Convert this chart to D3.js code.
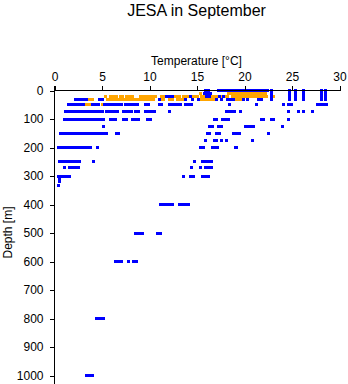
<!DOCTYPE html>
<html><head><meta charset="utf-8">
<script src="https://cdn.jsdelivr.net/npm/d3@7"></script>
<style>
html,body{margin:0;padding:0;background:#fff;}
svg{display:block;font-family:"Liberation Sans",Arial,Helvetica,sans-serif;}
</style></head>
<body><svg id="c" width="348" height="384"></svg>
<script>
const titleText = "JESA in September";
const xLabel = "Temperature [°C]";
const yLabel = "Depth [m]";
const xTicks = [0,5,10,15,20,25,30];
const yTicks = [0,100,200,300,400,500,600,700,800,900,1000];

// Blue series: depth levels and temperatures observed at each level
const blueDepths = [0,10,20,30,50,75,100,125,150,175,200,250,270,300,310,320,333,400,500,600,800,1000];
const blueTemps = [
  [15.9,16.2,17.3,17.6,17.9,18.2,18.5,18.8,19.1,19.4,19.7,20.0,20.3,20.6,20.9,21.2,21.5,21.8,22.1,22.4,22.8,24.7,25.4,26.2,28.1,28.5],
  [15.8,16.1,16.4,22.8,24.7,25.4,26.2,28.1,28.5],
  [11.8,12.1,12.4,14.3,16.0,16.3,17.4,17.8,22.8,24.7,25.4,26.2,28.1,28.5],
  [2.2,2.5,2.8,3.1,3.4,4.7,5.0,11.0,13.8,14.5,15.2,17.1,17.6,18.2,18.5,18.8,19.9,20.3,21.5,21.8,22.8,24.7,25.4,26.2,28.1,28.5],
  [1.5,1.8,2.1,2.4,2.7,3.0,4.0,4.3,4.6,5.3,5.6,5.9,6.2,6.5,6.8,7.1,7.5,7.8,8.1,8.4,8.7,9.6,9.9,11.0,11.3,12.1,12.4,12.7,13.0,13.3,13.8,14.1,14.4,18.4,21.3,24.1,24.6,24.9,27.7,28.0,28.3,28.6],
  [1.2,1.5,1.8,2.1,2.4,2.7,3.0,3.3,3.6,3.9,4.2,4.5,4.8,5.1,5.5,5.8,6.1,6.4,6.6,7.3,7.6,7.9,8.1,8.5,8.8,9.6,9.9,10.2,10.5,12.1,18.1,18.3,18.6,18.9,19.6,24.6,25.7,26.2,27.2],
  [1.0,1.3,1.6,1.9,2.2,2.5,2.8,3.1,3.4,3.7,4.0,4.3,4.6,4.9,5.2,5.9,6.1,6.4,7.3,7.6,8.2,8.5,8.8,9.8,10.1,16.8,17.1,17.7,18.0,18.3,21.8,22.0,22.8,23.1,24.6],
  [5.2,16.3,16.6,17.3,17.6,20.1,20.4,20.7,20.9,24.0],
  [0.6,0.9,1.2,1.5,1.8,2.1,2.4,2.7,3.0,3.3,3.6,3.9,4.2,4.5,4.8,5.0,5.3,5.5,6.5,6.7,16.1,16.3,17.1,17.4,18.8,19.2,19.5,22.5],
  [15.9,16.8,17.1,17.6,18.1,20.8],
  [0.45,0.75,1.05,1.35,1.65,1.95,2.25,2.55,2.85,3.15,3.45,3.75,4.5,15.4,15.7,16.6,16.9,17.2,19.0,19.2],
  [0.55,0.85,1.15,1.45,1.75,2.05,2.35,2.65,4.1,14.7,15.6,15.9,16.2,16.5],
  [1.0,1.6,1.9,2.2,2.5,14.4,15.4,15.9,16.2,16.5],
  [0.4,0.7,1.0,1.3,1.6,13.6,14.3,14.6,15.6,15.9,16.2],
  [0.5],
  [0.5],
  [0.4],
  [11.2,11.5,11.8,12.1,12.4,13.2,13.5,13.8,14.1],
  [8.5,8.8,9.1,9.3,10.8,11.2],
  [6.4,6.7,7.0,7.8,8.3,8.6],
  [4.4,4.7,5.0,5.2],
  [3.4,3.7,4.0]
];

// Orange series
const orangeDepths = [10,20,30,50];
const orangeTemps = [
  [15.4,18.3,18.6,18.9,19.2,19.5,19.8,20.1,20.4,20.7,21.0,21.3,21.6,21.9,22.2],
  [5.4,5.9,6.2,6.5,6.9,7.2,7.6,7.9,8.2,9.1,9.4,9.7,10.0,10.3,10.6,11.3,11.6,12.6,12.9,13.2,13.6,13.9,14.2,14.5,14.8,15.1,15.5,15.8,16.1,16.4,16.7,17.0,17.3,17.6,17.9,18.2,18.7,19.0,19.3,19.6,19.9,20.2,20.5,20.8,21.1,21.4,21.7,22.0,22.3,23.0],
  [3.7,4.0,5.6,5.9,6.2,6.5,6.8,7.1,7.4,7.7,8.0,8.3,8.6,8.9,9.2,9.5,9.8,10.1,10.4,11.2,11.5,12.1,12.4,12.9,13.2,13.5,15.5,15.8,16.1,16.4,16.7,19.2,19.5,19.8],
  [3.3,3.6,3.9,5.0]
];

const svg = d3.select("#c");
const x = d3.scaleLinear().domain([0,30]).range([54,339]);
const y = d3.scaleLinear().domain([0,1000]).range([90,375]);

function flatten(depths, temps){
  const out = [];
  depths.forEach((d,i)=>temps[i].forEach(t=>out.push({t:t,d:d})));
  return out;
}
const orangePts = flatten(orangeDepths, orangeTemps);
const bluePts = flatten(blueDepths, blueTemps);

function drawPts(pts, color){
  svg.append("g").selectAll("rect").data(pts).enter().append("rect")
    .attr("x", p=>Math.round(x(p.t))-1)
    .attr("y", p=>Math.round(y(p.d))-1)
    .attr("width",3).attr("height",3)
    .attr("fill",color).attr("shape-rendering","crispEdges");
}
drawPts(orangePts, "#ffa500");
drawPts(bluePts, "#0000ff");

// Axes
const gx = svg.append("g").attr("transform","translate(0.5,90.5)")
  .call(d3.axisTop(x).tickValues(xTicks).tickSize(5).tickPadding(5).tickFormat(d3.format("d")));
const gy = svg.append("g").attr("transform","translate(54.5,0.5)")
  .call(d3.axisLeft(y).tickValues(yTicks).tickSize(5).tickPadding(6).tickFormat(d3.format("d")));
[gx,gy].forEach(g=>{
  g.selectAll("text").attr("font-size",12).attr("font-family","Liberation Sans, Arial, sans-serif").attr("fill","#000");
  g.selectAll("line").attr("stroke","#000").attr("shape-rendering","crispEdges");
  g.select(".domain").remove();
});
gx.append("line").attr("x1",x(0)).attr("x2",x(30)).attr("y1",0).attr("y2",0)
  .attr("stroke","#000").attr("shape-rendering","crispEdges");
gy.append("line").attr("x1",0).attr("x2",0).attr("y1",85).attr("y2",384)
  .attr("stroke","#000").attr("shape-rendering","crispEdges");

svg.append("text").attr("x",196.5).attr("y",16).attr("text-anchor","middle")
  .attr("font-size",16).text(titleText);
svg.append("text").attr("x",196.5).attr("y",65).attr("text-anchor","middle")
  .attr("font-size",12).text(xLabel);
svg.append("text").attr("transform","translate(12,232.5) rotate(-90)").attr("text-anchor","middle")
  .attr("font-size",12).text(yLabel);
</script></body></html>
